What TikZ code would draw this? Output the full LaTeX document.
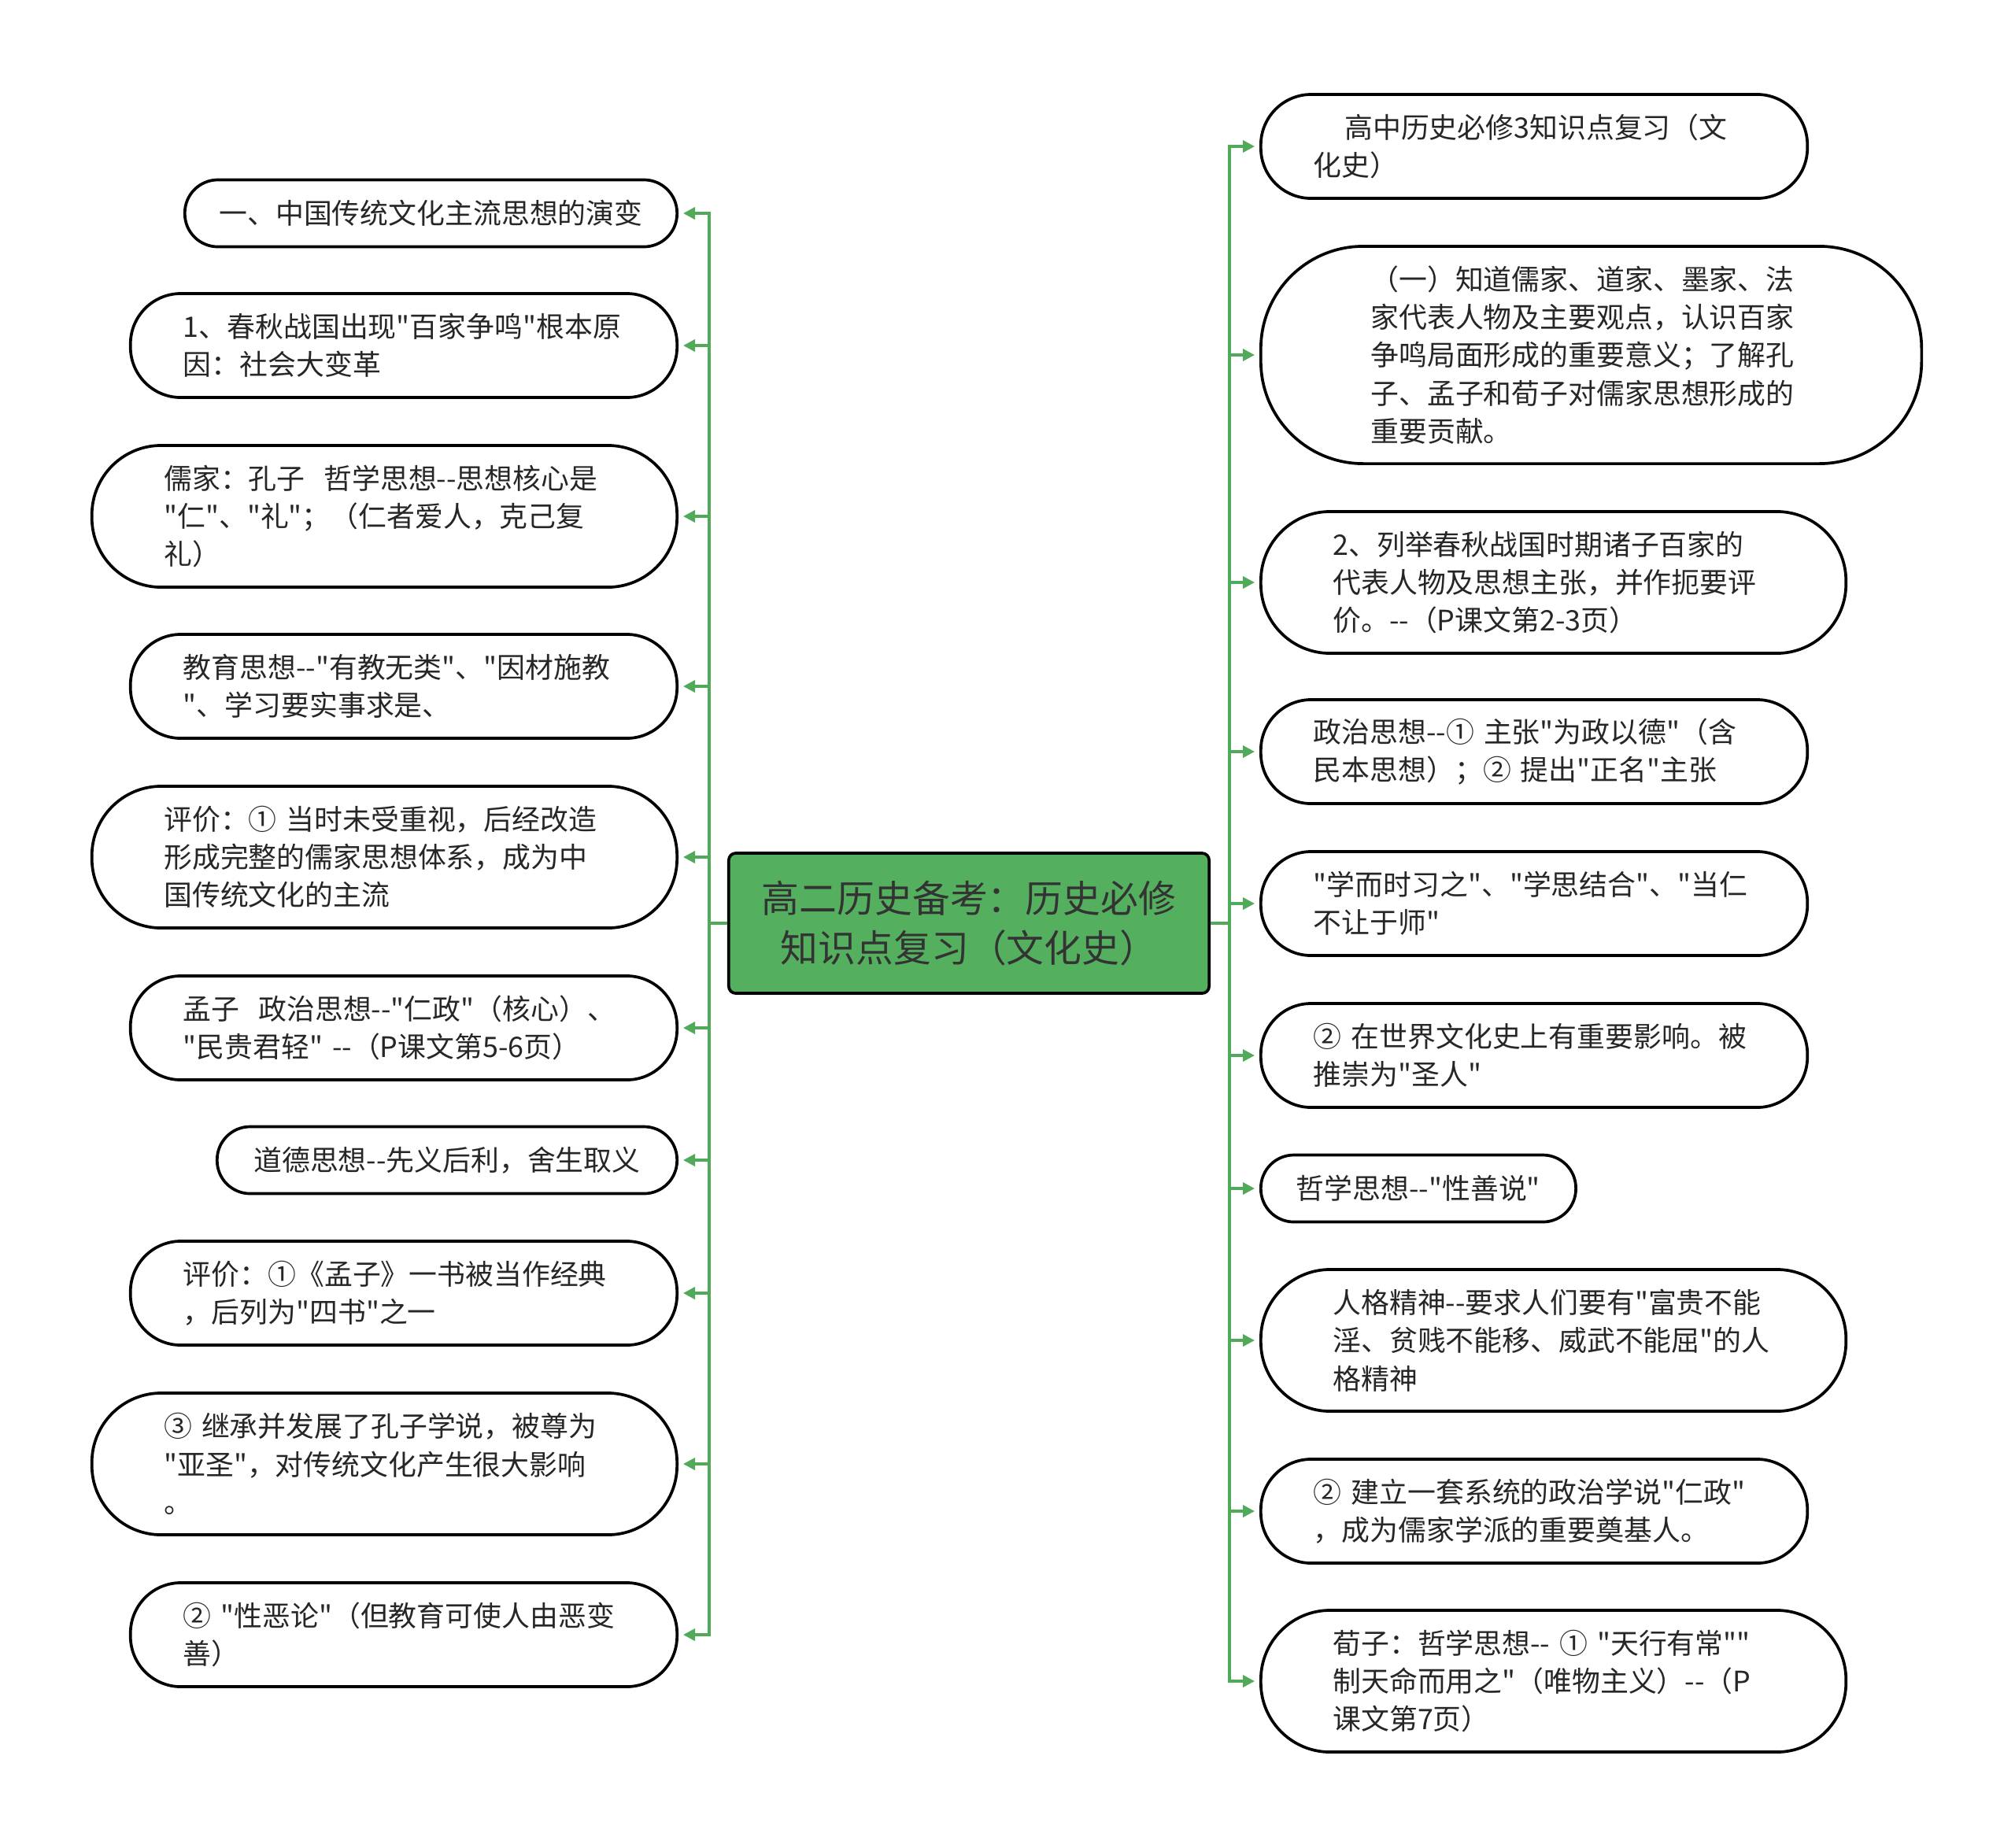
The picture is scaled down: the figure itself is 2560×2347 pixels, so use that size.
\documentclass[tikz,border=0pt]{standalone}
\usepackage{fontspec}
\newfontfamily\cjkfont{Noto Sans CJK SC}
\usetikzlibrary{arrows.meta}
\definecolor{topicgreen}{RGB}{84,175,94}
\definecolor{linkgreen}{RGB}{80,170,90}

\begin{document}
\begin{tikzpicture}[
    x=0.01cm, y=-0.01cm,
    leaf/.style={draw, line width=1.05pt, fill=white, align=left, inner sep=0pt, text=black!85,
        font=\cjkfont\fontsize{10.2}{13.7}\selectfont},
    oneline/.style={leaf, minimum height=0.85cm, rounded corners=0.42cm},
    twoline/.style={leaf, text width=5.6cm, minimum height=1.32cm, rounded corners=0.64cm},
    threeline/.style={leaf, text width=5.6cm, minimum height=1.8cm, rounded corners=0.88cm},
    fiveline/.style={leaf, text width=5.6cm, minimum height=2.76cm, rounded corners=1.3cm},
    topic/.style={draw, line width=1.05pt, fill=topicgreen, rounded corners=0.09cm, align=center,
        minimum width=6.1cm, minimum height=1.78cm, inner sep=0pt, text=black!80,
        font=\cjkfont\fontsize{13.6}{18.1}\selectfont},
    link/.style={draw=linkgreen, line width=1pt, -{Triangle[length=0.15cm, width=0.15cm]}, shorten >=0.06cm}
]
\path[use as bounding box, fill=white] (0,0) rectangle (2560,2347);

\node[topic] (root) at (1231,1173) {高二历史备考：历史必修\\知识点复习（文化史）};

% left branch
\node[oneline, minimum width=6.25cm, anchor=east] (l1) at (862,271) {一、中国传统文化主流思想的演变};
\node[twoline, minimum width=6.94cm, anchor=east] (l2) at (862,439) {1、春秋战国出现"百家争鸣"根本原\\因：社会大变革};
\node[threeline, minimum width=7.43cm, anchor=east] (l3) at (862,656) {儒家：孔子\ \ 哲学思想--思想核心是\\"仁"、"礼"；（仁者爱人，克己复\\礼）};
\node[twoline, minimum width=6.94cm, anchor=east] (l4) at (862,872) {教育思想--"有教无类"、"因材施教\\"、学习要实事求是、};
\node[threeline, minimum width=7.43cm, anchor=east] (l5) at (862,1089) {评价：① 当时未受重视，后经改造\\形成完整的儒家思想体系，成为中\\国传统文化的主流};
\node[twoline, minimum width=6.94cm, anchor=east] (l6) at (862,1306) {孟子\ \ 政治思想--"仁政"（核心）、\\"民贵君轻" --（P课文第5-6页）};
\node[oneline, minimum width=5.84cm, anchor=east] (l7) at (862,1474) {道德思想--先义后利，舍生取义};
\node[twoline, minimum width=6.94cm, anchor=east] (l8) at (862,1643) {评价：①《孟子》一书被当作经典\\，后列为"四书"之一};
\node[threeline, minimum width=7.43cm, anchor=east] (l9) at (862,1860) {③ 继承并发展了孔子学说，被尊为\\"亚圣"，对传统文化产生很大影响\\。};
\node[twoline, minimum width=6.94cm, anchor=east] (l10) at (862,2077) {② "性恶论"（但教育可使人由恶变\\善）};

% right branch
\node[twoline, minimum width=6.94cm, anchor=west] (r1) at (1600,186) {\hspace*{1.1em}高中历史必修3知识点复习（文\\化史）};
\node[fiveline, minimum width=8.39cm, anchor=west] (r2) at (1600,451) {（一）知道儒家、道家、墨家、法\\家代表人物及主要观点，认识百家\\争鸣局面形成的重要意义；了解孔\\子、孟子和荀子对儒家思想形成的\\重要贡献。};
\node[threeline, minimum width=7.43cm, anchor=west] (r3) at (1600,740) {2、列举春秋战国时期诸子百家的\\代表人物及思想主张，并作扼要评\\价。--（P课文第2-3页）};
\node[twoline, minimum width=6.94cm, anchor=west] (r4) at (1600,955) {政治思想--① 主张"为政以德"（含\\民本思想）；② 提出"正名"主张};
\node[twoline, minimum width=6.94cm, anchor=west] (r5) at (1600,1148) {"学而时习之"、"学思结合"、"当仁\\不让于师"};
\node[twoline, minimum width=6.94cm, anchor=west] (r6) at (1600,1341) {② 在世界文化史上有重要影响。被\\推崇为"圣人"};
\node[oneline, minimum width=4.0cm, anchor=west] (r7) at (1600,1510) {哲学思想--"性善说"};
\node[threeline, minimum width=7.43cm, anchor=west] (r8) at (1600,1703) {人格精神--要求人们要有"富贵不能\\淫、贫贱不能移、威武不能屈"的人\\格精神};
\node[twoline, minimum width=6.94cm, anchor=west] (r9) at (1600,1920) {② 建立一套系统的政治学说"仁政"\\，成为儒家学派的重要奠基人。};
\node[threeline, minimum width=7.43cm, anchor=west] (r10) at (1600,2136) {荀子：哲学思想-- ① "天行有常""\\制天命而用之"（唯物主义）--（P\\课文第7页）};

\draw[link] (root.west) -- ++(-23,0) |- (l1.east);
\draw[link] (root.west) -- ++(-23,0) |- (l2.east);
\draw[link] (root.west) -- ++(-23,0) |- (l3.east);
\draw[link] (root.west) -- ++(-23,0) |- (l4.east);
\draw[link] (root.west) -- ++(-23,0) |- (l5.east);
\draw[link] (root.west) -- ++(-23,0) |- (l6.east);
\draw[link] (root.west) -- ++(-23,0) |- (l7.east);
\draw[link] (root.west) -- ++(-23,0) |- (l8.east);
\draw[link] (root.west) -- ++(-23,0) |- (l9.east);
\draw[link] (root.west) -- ++(-23,0) |- (l10.east);
\draw[link] (root.east) -- ++(24,0) |- (r1.west);
\draw[link] (root.east) -- ++(24,0) |- (r2.west);
\draw[link] (root.east) -- ++(24,0) |- (r3.west);
\draw[link] (root.east) -- ++(24,0) |- (r4.west);
\draw[link] (root.east) -- ++(24,0) |- (r5.west);
\draw[link] (root.east) -- ++(24,0) |- (r6.west);
\draw[link] (root.east) -- ++(24,0) |- (r7.west);
\draw[link] (root.east) -- ++(24,0) |- (r8.west);
\draw[link] (root.east) -- ++(24,0) |- (r9.west);
\draw[link] (root.east) -- ++(24,0) |- (r10.west);
\end{tikzpicture}
\end{document}
